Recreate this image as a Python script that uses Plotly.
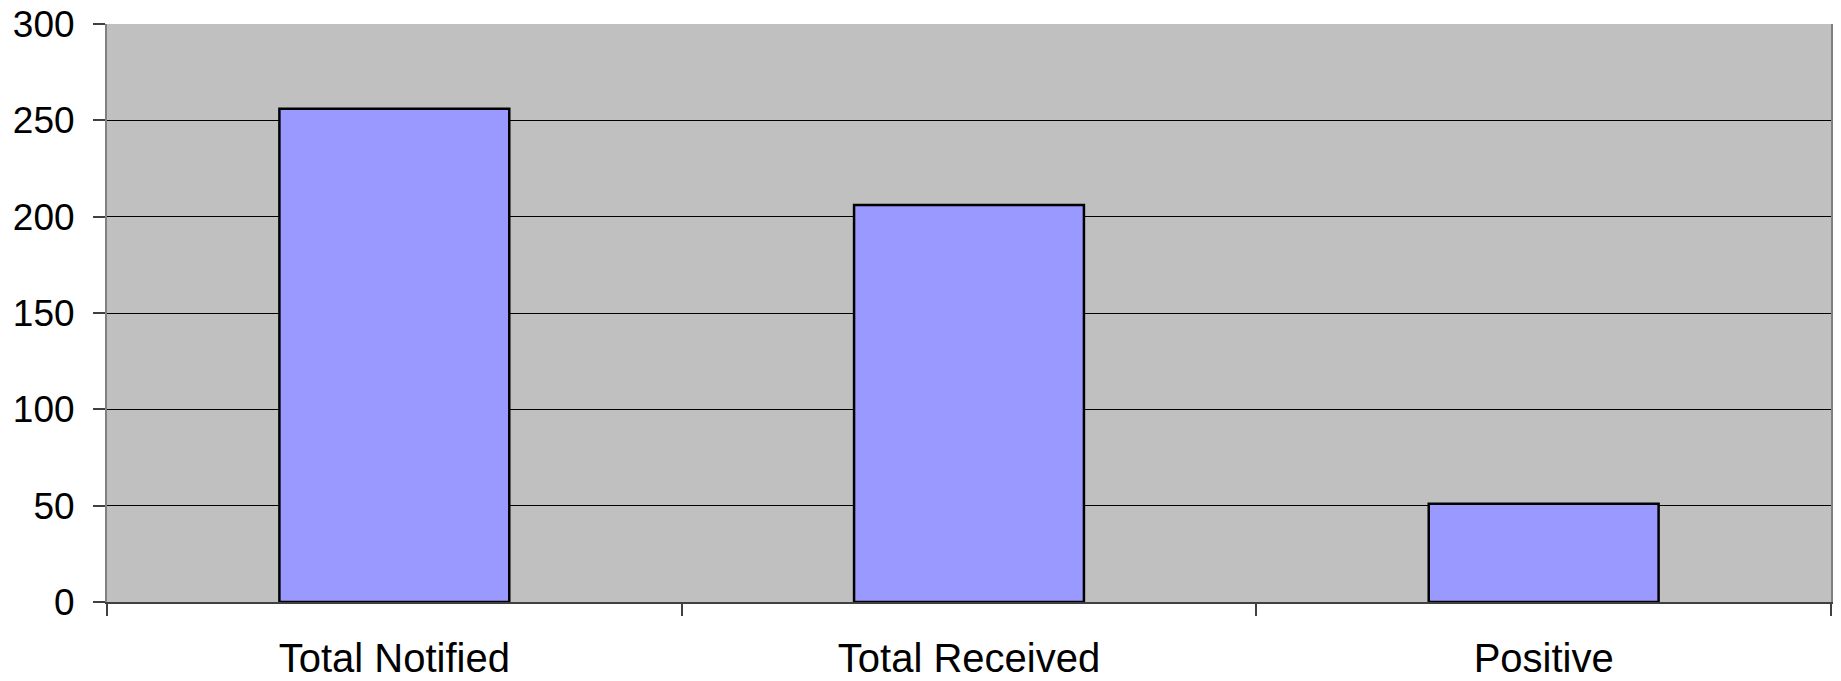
import plotly.graph_objects as go

categories = ["Total Notified", "Total Received", "Positive"]
values = [256, 206, 51]
y_ticks = [0, 50, 100, 150, 200, 250, 300]

fig = go.Figure()
fig.add_trace(go.Bar(
    x=categories, y=values,
    marker=dict(color="#9999FF", line=dict(color="black", width=2.5)),
))

fig.update_layout(
    width=1841, height=681,
    margin=dict(l=107, r=10, t=24, b=79),
    plot_bgcolor="#C0C0C0", paper_bgcolor="white",
    bargap=0.6, showlegend=False,
    font=dict(family="Liberation Sans, Arial, sans-serif", size=38, color="black"),
)
fig.update_xaxes(
    type="category", tickson="boundaries", automargin=False,
    ticks="outside", ticklen=12, tickcolor="#404040", tickwidth=1.5,
    showline=True, linecolor="#404040", linewidth=2,
    showgrid=False, ticklabelstandoff=20,
    tickfont=dict(size=40),
)
fig.update_yaxes(
    range=[0, 300], tickvals=y_ticks, automargin=False,
    ticks="outside", ticklen=12, tickcolor="#404040", tickwidth=1.5,
    showline=True, linecolor="#808080", linewidth=2, mirror=True,
    showgrid=True, gridcolor="black", gridwidth=1,
    zeroline=False, ticklabelstandoff=11,
    tickfont=dict(size=37),
)

fig.write_html("out.html")
